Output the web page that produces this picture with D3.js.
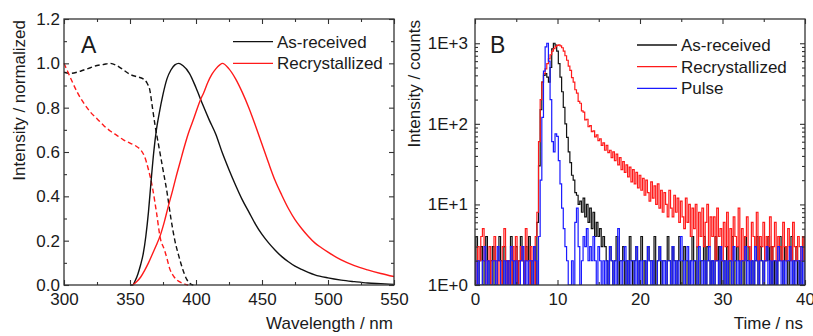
<!DOCTYPE html>
<html lang="en">
<head>
<meta charset="UTF-8">
<script src="https://cdn.jsdelivr.net/npm/d3@7"></script>
<style>
  html, body { margin: 0; padding: 0; background: #fff; }
  svg { display: block; }
  text { font-family: "Liberation Sans", Arial, sans-serif; fill: #1a1a1a; }
</style>
</head>
<body>
<svg id="chart" width="813" height="336"></svg>
<script>
// ---- panel A: normalised spectra ----
let excAsWl  = [300,305,310,315,320,325,330,335,340,345,350,355,360,363,365,367,369,372,375,378,381,384,387,390,393,396,398];
let excAsVal = [0.96,0.955,0.96,0.97,0.98,0.99,0.995,1.0,0.99,0.97,0.95,0.94,0.93,0.91,0.88,0.8,0.72,0.62,0.52,0.42,0.3,0.2,0.13,0.07,0.025,0.004,0];

let excReWl  = [300,303,306,310,315,320,325,330,335,340,345,350,355,358,361,364,367,370,373,376,378,380,383,386,389,392,394];
let excReVal = [1.0,0.96,0.92,0.87,0.82,0.78,0.75,0.72,0.695,0.675,0.655,0.64,0.625,0.61,0.58,0.52,0.44,0.33,0.21,0.16,0.12,0.075,0.04,0.02,0.01,0.003,0];

let emAsWl  = [350,352,354,356,358,360,362,364,366,368,370,372,375,378,381,384,387,390,395,400,405,410,415,420,425,430,435,440,445,450,455,460,465,470,475,480,485,490,500,510,520,530,540,550];
let emAsVal = [0,0,0.02,0.05,0.09,0.14,0.22,0.33,0.47,0.6,0.7,0.77,0.86,0.93,0.97,0.993,1.0,0.99,0.955,0.89,0.815,0.745,0.68,0.595,0.52,0.45,0.385,0.33,0.275,0.228,0.19,0.157,0.128,0.105,0.085,0.07,0.057,0.046,0.032,0.022,0.015,0.009,0.006,0.003];

let emReWl  = [352,355,358,361,364,367,370,373,376,379,382,385,388,391,394,397,400,403,406,409,412,415,418,420,425,430,435,440,445,450,455,460,465,470,475,480,485,490,495,500,510,520,530,540,550];
let emReVal = [0,0.015,0.035,0.065,0.1,0.14,0.18,0.225,0.285,0.355,0.42,0.49,0.555,0.62,0.68,0.73,0.78,0.83,0.87,0.915,0.95,0.975,0.993,1.0,0.975,0.93,0.87,0.8,0.72,0.635,0.55,0.47,0.405,0.345,0.295,0.255,0.22,0.19,0.168,0.148,0.113,0.087,0.068,0.052,0.038];

let legendA = ["As-received", "Recrystallized"];

// ---- panel B: decay histograms, counts per 0.2 ns channel from t = 0 ----
let binWidth = 0.2;
let countsAs = [
  2,4,1,2,3,1,2,4,2,1, 2,3,1,1,2,4,2,1,3,2, 1,2,4,1,2,3,1,2,4,2, 1,3,2,4,1,2,3,1,
  6,30,150,330,400,420,380,330,500,850, 1000,950,800,560,380,250,160,100,68,45,
  33,23,20,14,13,10,11,8,12,7, 10,6,9,5,8,4,6,4,5,3, 4,3,
  2,1,3,2,1,2,4,1,2,2, 3,1,2,1,4,2,1,2,3,1, 2,4,1,2,1,3,2,2,1,4,
  1,2,3,1,2,2,1,4,2,1, 3,2,1,2,4,1,2,3,1,2, 1,2,4,2,1,3,1,2,2,4,
  1,3,2,1,2,1,4,2,3,1, 2,2,1,3,1,2,4,1,2,3, 2,1,2,1,4,2,3,1,2,1,
  2,4,1,3,2,1,2,2,4,1, 3,1,2,1,2,4,2,1,3,2, 1,2,4,1,2,3,1,2,1,4, 2
];
let countsRe = [
  2,1,3,2,4,5,2,1,2,3, 1,2,4,2,1,2,1,3,5,2, 1,2,1,3,2,4,1,2,3,2, 1,5,2,1,3,2,1,4,
  8,60,200,330,420,480,560,640,720,800, 860,910,940,955,930,880,800,700,615,520,
  460,375,330,265,240,190,180,145,140,112, 114,92,95,80,82,69,73,62,65,54, 58,47,
  54,44,47,38,45,35,42,31,38,27, 34,25,31,22,29,19,27,18,25,16,
  23,15,21,13,20,14,11,19,12,17, 10,18,9,15,8,14,10,7,15,9,
  7,13,8,12,6,11,7,5,12,6, 10,4,9,5,10,3,8,4,9,3,
  6,10,3,7,4,7,2,9,4,5, 2,6,3,8,2,5,2,7,4,3,
  9,2,5,2,4,7,3,2,6,4, 3,8,2,4,3,6,2,4,3,7,
  2,3,6,2,4,3,2,6,3,2, 5,3,2,6,3,2,4,3,2,4, 2
];
let countsPulse = [
  2,1,2,1,1,2,3,1,2,1, 1,2,2,1,3,2,1,1,2,1, 2,1,3,2,1,2,1,1,2,3, 1,2,1,2,2,1,3,2,1,
  4,20,120,450,900,1000,600,200,60,45, 75,70,35,18,9,5,3,2,1,1,
  2,1,6,9,3,1,2,4,3,5, 2,3,2,4,2,1,3,
  2,1,2,1,2,1,3,2,1,2, 1,5,2,1,2,3,1,2,1,2, 2,1,3,1,2,1,2,2,1,3,
  2,1,2,1,1,2,3,2,1,2, 1,2,2,1,3,1,2,1,2,4, 2,1,2,3,1,2,1,2,2,1,
  3,2,1,2,1,2,3,1,2,1, 2,2,1,3,2,1,2,1,2,2, 1,3,2,1,2,1,2,2,3,1,
  2,1,2,1,3,2,1,2,2,1, 2,3,1,2,1,2,2,1,3,2, 1,2,1,2,2,3,1,2,1,2, 2,1,3,1,2
];
let legendB = ["As-received", "Recrystallized", "Pulse"];

let black = "#111", red = "#ff1a1a", blue = "#1a1aff";
let frameColor = "#333";

let svg = d3.select("#chart");

function zip(xs, ys) { return xs.map((x, i) => [x, ys[i]]); }

// inward ticks on all four sides, labels only on bottom/left
function frame(g, x, y, opt) {
  let [x0, x1] = x.range(), [y0, y1] = y.range();
  let w = x1 - x0, h = y0 - y1;
  let style = sel => {
    sel.select(".domain").remove();
    sel.selectAll("line").attr("stroke", frameColor).attr("stroke-width", 1.1);
    sel.selectAll("text").attr("font-size", 17).attr("font-family", "'Liberation Sans', Arial, sans-serif").attr("fill", "#1a1a1a");
  };
  let sides = [
    [d3.axisBottom, x, opt.xMajor, opt.xFmt, `translate(0,${y0})`, opt.xPad],
    [d3.axisTop, x, opt.xMajor, null, `translate(0,${y1})`, 0],
    [d3.axisLeft, y, opt.yMajor, opt.yFmt, `translate(${x0},0)`, opt.yPad],
    [d3.axisRight, y, opt.yMajor, null, `translate(${x1},0)`, 0]
  ];
  sides.forEach(([ax, sc, vals, fmt, tr, pad]) => {
    g.append("g").attr("transform", tr)
      .call(ax(sc).tickValues(vals).tickSizeInner(-5).tickSizeOuter(0)
        .tickPadding(pad).tickFormat(fmt ? fmt : () => ""))
      .call(style);
  });
  let minors = [
    [d3.axisBottom, x, opt.xMinor, `translate(0,${y0})`],
    [d3.axisTop, x, opt.xMinor, `translate(0,${y1})`],
    [d3.axisLeft, y, opt.yMinor, `translate(${x0},0)`],
    [d3.axisRight, y, opt.yMinor, `translate(${x1},0)`]
  ];
  minors.forEach(([ax, sc, vals, tr]) => {
    g.append("g").attr("transform", tr)
      .call(ax(sc).tickValues(vals).tickSizeInner(-3).tickSizeOuter(0).tickFormat(() => ""))
      .call(style);
  });
  g.append("rect").attr("x", x0).attr("y", y1).attr("width", w).attr("height", h)
    .attr("fill", "none").attr("stroke", frameColor).attr("stroke-width", 1.3);
}

function legend(g, x, y0, dy, names, colors) {
  names.forEach((n, i) => {
    let yy = y0 + i * dy;
    g.append("line").attr("x1", x).attr("x2", x + 40).attr("y1", yy).attr("y2", yy)
      .attr("stroke", colors[i]).attr("stroke-width", 1.3);
    g.append("text").attr("x", x + 44).attr("y", yy + 6).attr("font-size", 17).text(n);
  });
}

// ---------- panel A ----------
let xA = d3.scaleLinear().domain([300, 550]).range([64, 394]);
let yA = d3.scaleLinear().domain([0, 1.2]).range([285, 19]);
let gA = svg.append("g");

let lineA = d3.line().x(d => xA(d[0])).y(d => yA(d[1])).curve(d3.curveMonotoneX);
[
  [excAsWl, excAsVal, black, "5,3"],
  [excReWl, excReVal, red, "5,3"],
  [emAsWl, emAsVal, black, null],
  [emReWl, emReVal, red, null]
].forEach(([xs, ys, c, dash]) => {
  gA.append("path").datum(zip(xs, ys)).attr("d", lineA)
    .attr("fill", "none").attr("stroke", c).attr("stroke-width", 1.4)
    .attr("stroke-dasharray", dash);
});

frame(gA, xA, yA, {
  xMajor: d3.range(300, 551, 50), xMinor: d3.range(325, 550, 50), xFmt: d3.format("d"), xPad: 8,
  yMajor: d3.range(0, 1.21, 0.2), yMinor: d3.range(0.1, 1.2, 0.2), yFmt: d3.format(".1f"), yPad: 4
});

legend(gA, 233, 41.7, 21.6, legendA, [black, red]);
gA.append("text").attr("x", 81).attr("y", 53).attr("font-size", 23).text("A");
gA.append("text").attr("x", 393).attr("y", 329).attr("text-anchor", "end").attr("font-size", 17).text("Wavelength / nm");
gA.append("text").attr("transform", "translate(25,20) rotate(-90)").attr("text-anchor", "end")
  .attr("font-size", 17).text("Intensity / normalized");

// ---------- panel B ----------
let xB = d3.scaleLinear().domain([0, 40]).range([475, 805]);
let yB = d3.scaleLog().domain([1, 2000]).range([285, 19]);
let gB = svg.append("g");

gB.append("clipPath").attr("id", "clipB").append("rect")
  .attr("x", 475).attr("y", 19).attr("width", 330).attr("height", 266);

let lineB = d3.line().x((d, i) => xB(i * binWidth)).y(d => yB(Math.max(d, 1))).curve(d3.curveStep);
[[countsAs, black], [countsRe, red], [countsPulse, blue]].forEach(([cs, c]) => {
  gB.append("path").datum(cs).attr("d", lineB).attr("clip-path", "url(#clipB)")
    .attr("fill", "none").attr("stroke", c).attr("stroke-width", 1.2);
});

let logMinor = [];
[1, 10, 100, 1000].forEach(p => d3.range(2, 10).forEach(k => { if (k * p < 2000) logMinor.push(k * p); }));

frame(gB, xB, yB, {
  xMajor: d3.range(0, 41, 10), xMinor: d3.range(5, 40, 10), xFmt: d3.format("d"), xPad: 8,
  yMajor: [1, 10, 100, 1000], yMinor: logMinor, yFmt: d => "1E+" + Math.round(Math.log10(d)), yPad: 7
});

legend(gB, 637, 45, 21.7, legendB, [black, red, blue]);
gB.append("text").attr("x", 490).attr("y", 53).attr("font-size", 23).text("B");
gB.append("text").attr("x", 803).attr("y", 329).attr("text-anchor", "end").attr("font-size", 17).text("Time / ns");
gB.append("text").attr("transform", "translate(420,20) rotate(-90)").attr("text-anchor", "end")
  .attr("font-size", 17).text("Intensity / counts");
</script>
</body>
</html>
